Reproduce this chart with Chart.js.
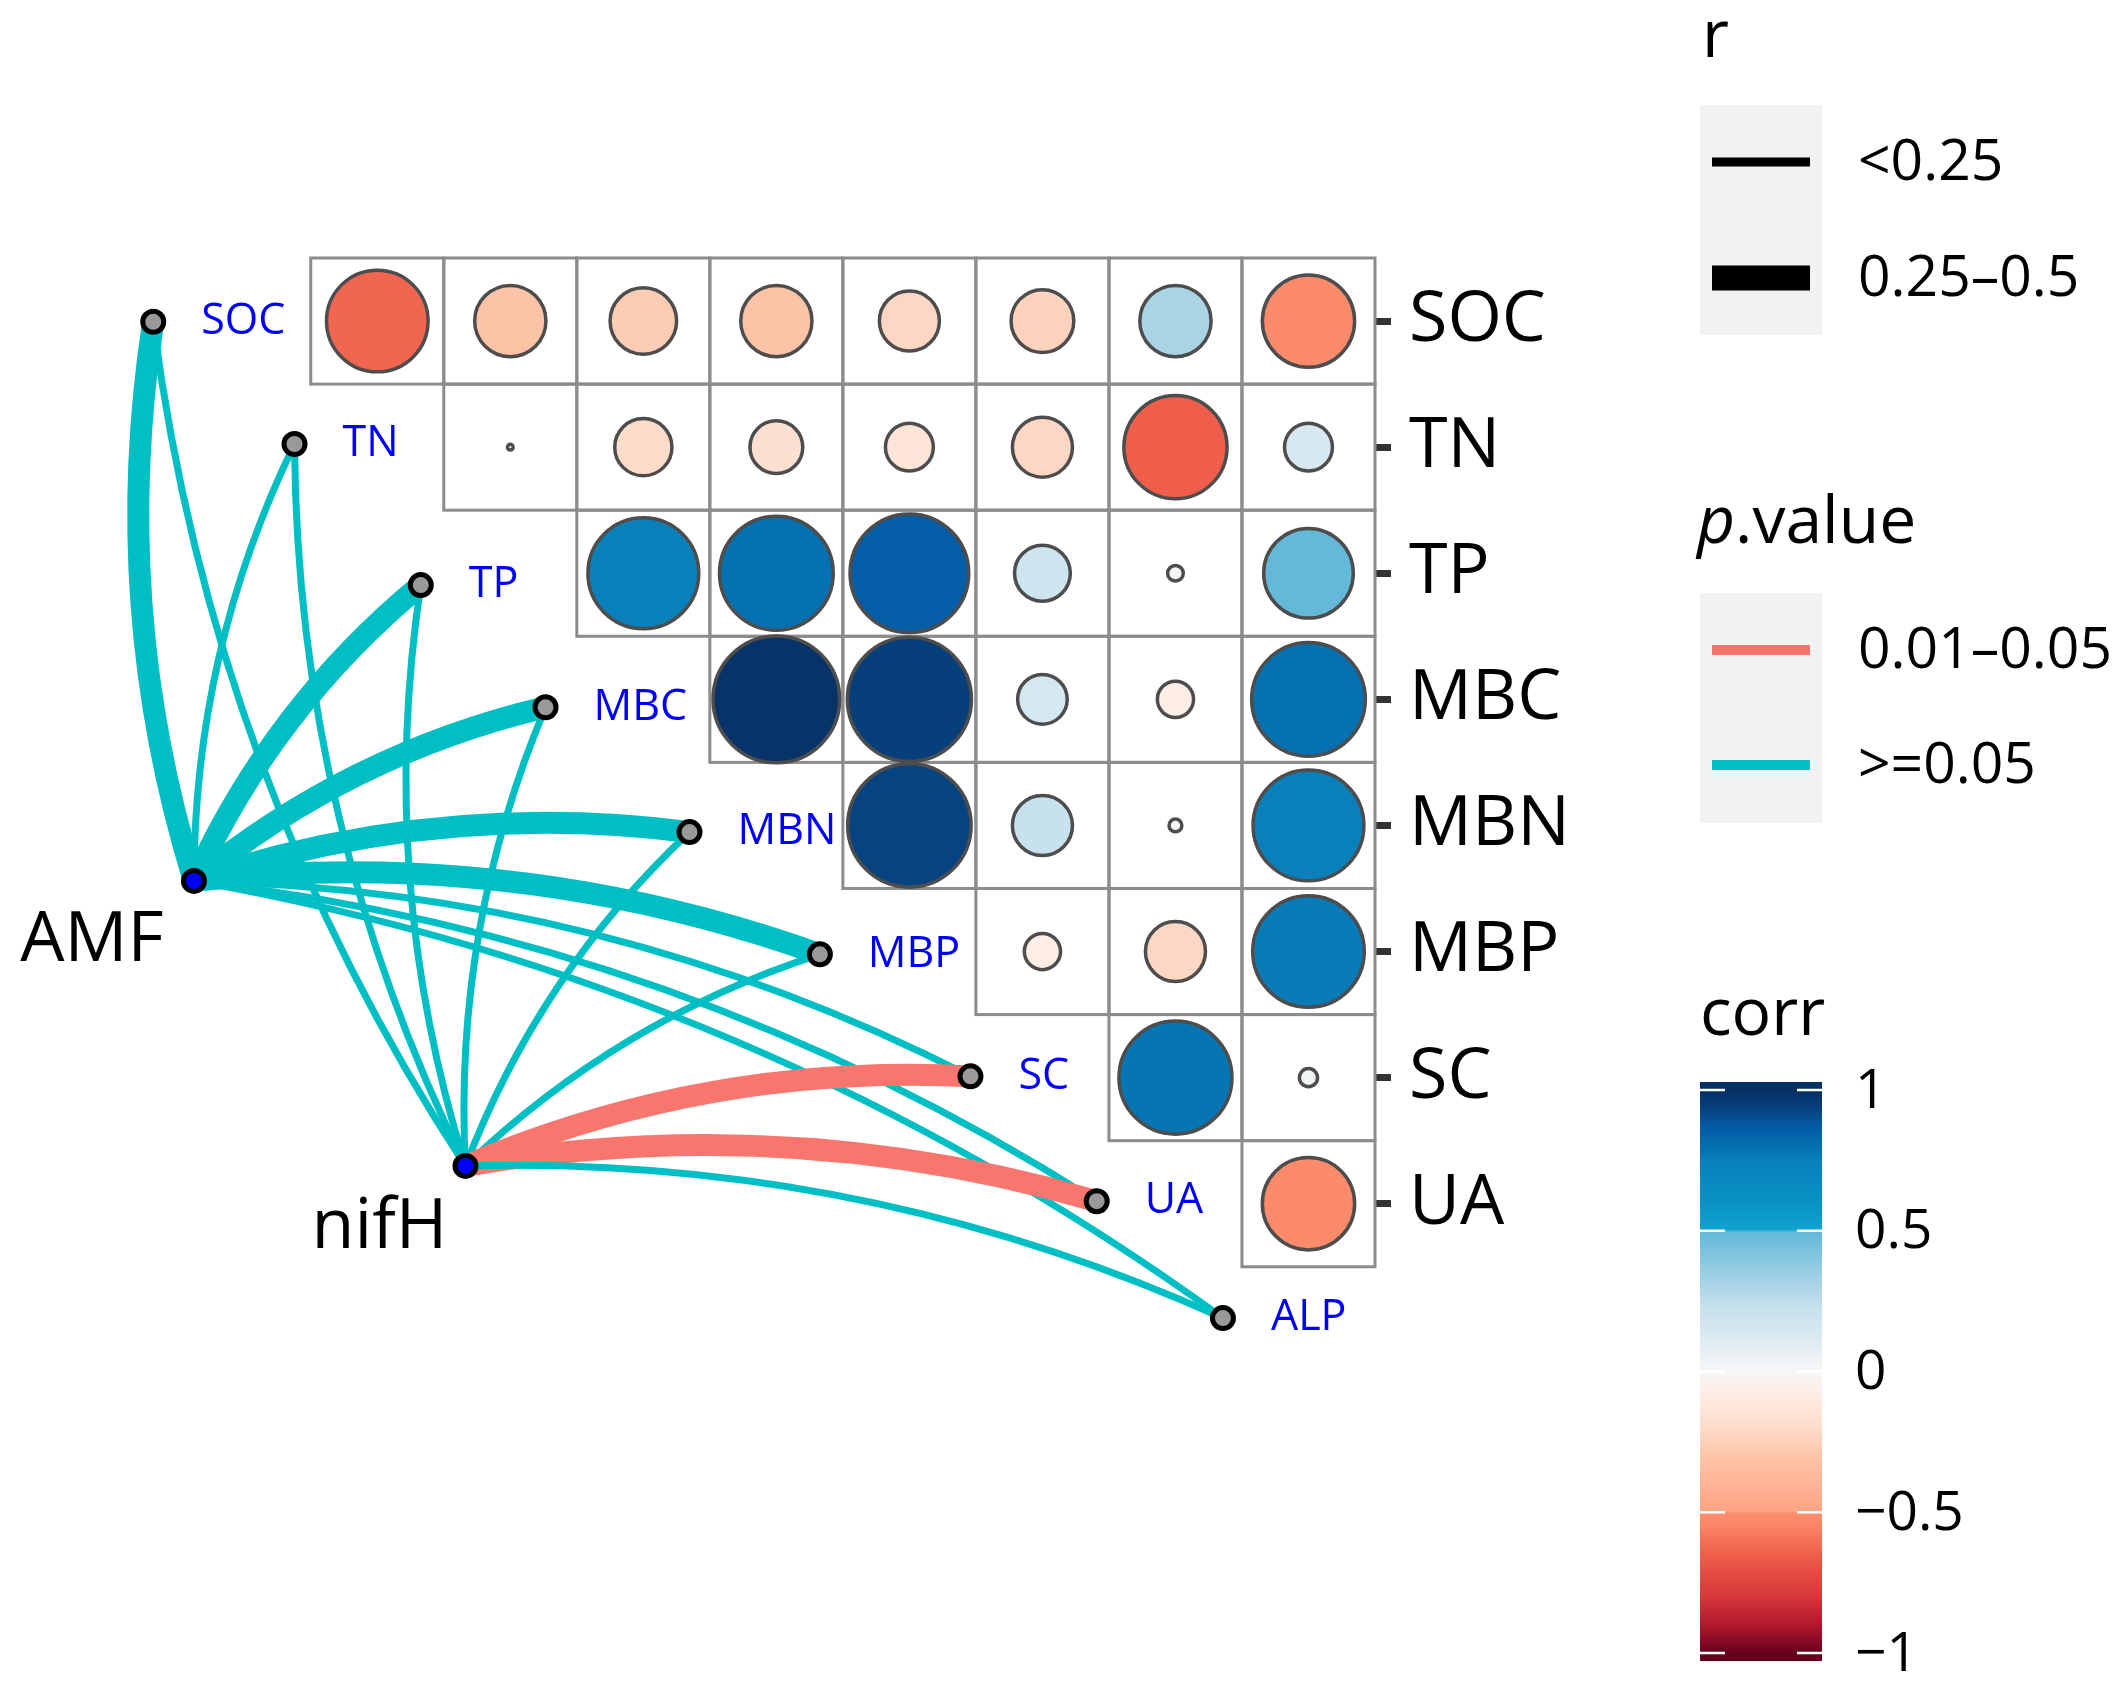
<!DOCTYPE html>
<html>
<head>
<meta charset="utf-8">
<script src="https://cdn.jsdelivr.net/npm/chart.js@4.4.0/dist/chart.umd.min.js"></script>
<style>
  html, body { margin: 0; padding: 0; background: #fff; }
  #wrap { width: 2125px; height: 1695px; position: relative; }
</style>
</head>
<body>
<div id="wrap"><canvas id="chart"></canvas></div>
<script>
// matrix rows (labels on the right axis)
const rowNames = ["SOC", "TN", "TP", "MBC", "MBN", "MBP", "SC", "UA"];
// upper triangle: row i starts at column i
const corrRows = [
  [-0.63, -0.31, -0.27, -0.31, -0.22, -0.24, 0.31, -0.52],
  [-0.002, -0.2, -0.17, -0.14, -0.22, -0.65, 0.14],
  [0.75, 0.79, 0.86, 0.19, 0.015, 0.49],
  [0.98, 0.94, 0.15, -0.08, 0.79],
  [0.93, 0.22, 0.01, 0.75],
  [-0.08, -0.22, 0.76],
  [0.78, 0.02],
  [-0.52],
];

// network
const specNames = ["AMF", "nifH"];
const envNames = ["SOC", "TN", "TP", "MBC", "MBN", "MBP", "SC", "UA", "ALP"];
const amfR = ["0.25–0.5", "<0.25", "0.25–0.5", "0.25–0.5", "0.25–0.5", "0.25–0.5", "<0.25", "<0.25", "<0.25"];
const amfP = [">=0.05", ">=0.05", ">=0.05", ">=0.05", ">=0.05", ">=0.05", ">=0.05", ">=0.05", ">=0.05"];
const nifhR = ["<0.25", "<0.25", "<0.25", "<0.25", "<0.25", "<0.25", "0.25–0.5", "0.25–0.5", "<0.25"];
const nifhP = [">=0.05", ">=0.05", ">=0.05", ">=0.05", ">=0.05", ">=0.05", "0.01–0.05", "0.01–0.05", ">=0.05"];

// legend entries
const rClasses = ["<0.25", "0.25–0.5"];
const pClasses = ["0.01–0.05", ">=0.05"];
const corrTicks = [1, 0.5, 0, -0.5, -1];

// node layout (in cell units, same axes as the matrix)
const envNodeX = [-0.684, 0.378, 1.327, 2.265, 3.347, 4.327, 5.459, 6.408, 7.357];
const envNodeY = [1.006, 1.975, 3.094, 4.063, 5.053, 6.022, 6.99, 7.98, 8.907];
const specNodeX = [-0.378, 1.663];
const specNodeY = [5.44, 7.70];

const FONT = '"Open Sans", "DejaVu Sans", sans-serif';

// colour ramp for corr
const corrStops = [-1, -0.9, -0.8, -0.65, -0.55, -0.505, -0.495, -0.31, -0.2, -0.08, 0, 0.14, 0.22, 0.31, 0.495, 0.505, 0.6, 0.75, 0.79, 0.86, 0.95, 1];
const corrColors = ["#67001F", "#B2182B", "#D6373A", "#EF5E4A", "#FA8466", "#FC8E6E", "#FDA484", "#FDC3A7", "#FDDCCA", "#FEEDE5", "#F7F7F7", "#D7E8F1", "#C8E1EE", "#A8D4E6", "#62B8D9", "#10A2CF", "#0892C4", "#0A80BA", "#0571B0", "#045EA7", "#073B76", "#053061"];

function hexToRgb(h) {
  return [parseInt(h.slice(1, 3), 16), parseInt(h.slice(3, 5), 16), parseInt(h.slice(5, 7), 16)];
}
function corrColor(v) {
  for (let i = 1; i < corrStops.length; i++) {
    if (v <= corrStops[i]) {
      const t = (v - corrStops[i - 1]) / (corrStops[i] - corrStops[i - 1]);
      const a = hexToRgb(corrColors[i - 1]), b = hexToRgb(corrColors[i]);
      const c = a.map((ai, k) => Math.round(ai + (b[k] - ai) * t));
      return `rgb(${c[0]},${c[1]},${c[2]})`;
    }
  }
  return corrColors[corrColors.length - 1];
}

const edgeWidth = (rc) => (rc === "0.25–0.5" ? 22 : 7);
const edgeColor = (pc) => (pc === "0.01–0.05" ? "#F8766D" : "#00BFC4");

// bubble points of the matrix
const cellPoints = [];
corrRows.forEach((vals, i) => {
  vals.forEach((v, k) => {
    cellPoints.push({ x: i + 1 + k, y: i + 1, r: 64 * Math.sqrt(Math.abs(v)), v: v });
  });
});

// node points
const nodePoints = [];
envNames.forEach((n, i) => nodePoints.push({ x: envNodeX[i], y: envNodeY[i], r: 10.5, kind: "env" }));
specNames.forEach((n, i) => nodePoints.push({ x: specNodeX[i], y: specNodeY[i], r: 10.5, kind: "spec" }));

const netPlugin = {
  id: "corrNet",
  beforeDatasetsDraw(chart) {
    const { ctx, scales: { x, y } } = chart;
    ctx.save();
    // cell borders
    ctx.strokeStyle = "#8C8C8C";
    ctx.lineWidth = 3;
    corrRows.forEach((vals, i) => {
      vals.forEach((v, k) => {
        const col = i + 1 + k, row = i + 1;
        const x0 = x.getPixelForValue(col - 0.5), x1 = x.getPixelForValue(col + 0.5);
        const y0 = y.getPixelForValue(row - 0.5), y1 = y.getPixelForValue(row + 0.5);
        ctx.strokeRect(x0, y0, x1 - x0, y1 - y0);
      });
    });
    // curved links
    const rAll = [amfR, nifhR], pAll = [amfP, nifhP];
    ctx.lineCap = "butt";
    specNames.forEach((s, si) => {
      const sx = x.getPixelForValue(specNodeX[si]), sy = y.getPixelForValue(specNodeY[si]);
      envNames.forEach((e, ei) => {
        const ex = x.getPixelForValue(envNodeX[ei]), ey = y.getPixelForValue(envNodeY[ei]);
        const dx = ex - sx, dy = ey - sy;
        const cx = (sx + ex) / 2 + dy * 0.115, cy = (sy + ey) / 2 - dx * 0.115;
        ctx.strokeStyle = edgeColor(pAll[si][ei]);
        ctx.lineWidth = edgeWidth(rAll[si][ei]);
        ctx.beginPath();
        ctx.moveTo(sx, sy);
        ctx.quadraticCurveTo(cx, cy, ex, ey);
        ctx.stroke();
      });
    });
    ctx.restore();
  },
  afterDatasetsDraw(chart) {
    const { ctx, scales: { x, y } } = chart;
    ctx.save();
    ctx.textBaseline = "middle";
    ctx.textAlign = "left";
    ctx.fillStyle = "#0000FF";
    ctx.font = `43px ${FONT}`;
    envNames.forEach((n, i) => {
      ctx.fillText(n, x.getPixelForValue(envNodeX[i]) + 48, y.getPixelForValue(envNodeY[i]));
    });
    ctx.fillStyle = "#000";
    ctx.textAlign = "center";
    ctx.font = `70px ${FONT}`;
    const offs = [[-102, 60], [-86, 62]];
    specNames.forEach((n, i) => {
      ctx.fillText(n, x.getPixelForValue(specNodeX[i]) + offs[i][0], y.getPixelForValue(specNodeY[i]) + offs[i][1]);
    });
    ctx.restore();
  },
  afterDraw(chart) {
    const ctx = chart.ctx;
    ctx.save();
    const keyX = 1700, keyW = 122, labX = 1858;
    // r legend
    ctx.fillStyle = "#000";
    ctx.textAlign = "left";
    ctx.textBaseline = "alphabetic";
    ctx.font = `66px ${FONT}`;
    ctx.fillText("r", 1702, 57);
    ctx.fillStyle = "#F2F2F2";
    ctx.fillRect(keyX, 105, keyW, 230);
    const rY = [162, 278];
    rClasses.forEach((c, i) => {
      ctx.fillStyle = "#000";
      const w = c === "0.25–0.5" ? 25 : 9;
      ctx.fillRect(keyX + 12, rY[i] - w / 2, keyW - 24, w);
      ctx.textBaseline = "middle";
      ctx.font = `57px ${FONT}`;
      ctx.fillText(c, labX, rY[i] + 2);
    });
    // p.value legend
    ctx.textBaseline = "alphabetic";
    ctx.font = `italic 66px ${FONT}`;
    ctx.fillText("p", 1697, 543);
    const pw = ctx.measureText("p").width;
    ctx.font = `66px ${FONT}`;
    ctx.fillText(".value", 1697 + pw, 543);
    ctx.fillStyle = "#F2F2F2";
    ctx.fillRect(keyX, 593, keyW, 230);
    const pY = [650, 765];
    pClasses.forEach((c, i) => {
      ctx.fillStyle = edgeColor(c);
      ctx.fillRect(keyX + 12, pY[i] - 5, keyW - 24, 10);
      ctx.fillStyle = "#000";
      ctx.textBaseline = "middle";
      ctx.font = `57px ${FONT}`;
      ctx.fillText(c, labX, pY[i] + 2);
    });
    // corr colourbar
    ctx.textBaseline = "alphabetic";
    ctx.font = `66px ${FONT}`;
    ctx.fillText("corr", 1700, 1035);
    const top = 1090, bot = 1653;
    const vy = (v) => top + (1 - v) / 2 * (bot - top);
    const grad = ctx.createLinearGradient(0, vy(1), 0, vy(-1));
    corrStops.forEach((s, i) => grad.addColorStop((1 - s) / 2, corrColors[i]));
    ctx.fillStyle = grad;
    ctx.fillRect(keyX, top - 8, keyW, bot - top + 16);
    ctx.strokeStyle = "#fff";
    ctx.lineWidth = 2.5;
    ctx.fillStyle = "#000";
    ctx.textBaseline = "middle";
    ctx.font = `55px ${FONT}`;
    corrTicks.forEach((t) => {
      const ty = vy(t);
      ctx.beginPath();
      ctx.moveTo(keyX, ty); ctx.lineTo(keyX + 25, ty);
      ctx.moveTo(keyX + keyW - 25, ty); ctx.lineTo(keyX + keyW, ty);
      ctx.stroke();
      const lab = t < 0 ? "\u2212" + Math.abs(t) : String(t);
      ctx.fillText(lab, 1855, ty + 2);
    });
    ctx.restore();
  },
};

new Chart(document.getElementById("chart"), {
  type: "bubble",
  data: {
    datasets: [
      {
        label: "nodes",
        data: nodePoints,
        backgroundColor: (c) => (c.raw && c.raw.kind === "spec" ? "#0000FF" : "#999999"),
        borderColor: "#000",
        borderWidth: 5,
        clip: false,
      },
      {
        label: "corr",
        data: cellPoints,
        backgroundColor: (c) => (c.raw ? corrColor(c.raw.v) : "#fff"),
        borderColor: "#4D4D4D",
        borderWidth: 3.5,
        clip: false,
      },
    ],
  },
  options: {
    responsive: true,
    maintainAspectRatio: false,
    devicePixelRatio: 1,
    animation: false,
    events: [],
    layout: { autoPadding: false, padding: { left: 0, top: 258, right: 500, bottom: 0 } },
    plugins: { legend: { display: false }, tooltip: { enabled: false } },
    scales: {
      x: { type: "linear", min: -1.836, max: 8.5, display: false },
      y: {
        type: "linear",
        position: "right",
        reverse: true,
        min: 0.5,
        max: 11.896,
        afterBuildTicks: (s) => { s.ticks = rowNames.map((n, i) => ({ value: i + 1 })); },
        afterFit: (s) => { s.width = 250; s.paddingTop = 0; s.paddingBottom = 0; },
        ticks: {
          autoSkip: false,
          padding: 18,
          color: "#000",
          font: { family: FONT, size: 70 },
          callback: (v) => rowNames[v - 1],
        },
        grid: { drawOnChartArea: false, drawTicks: true, tickLength: 16, tickWidth: 7, tickColor: "#333" },
        border: { display: false },
      },
    },
  },
  plugins: [netPlugin],
});
</script>
</body>
</html>
